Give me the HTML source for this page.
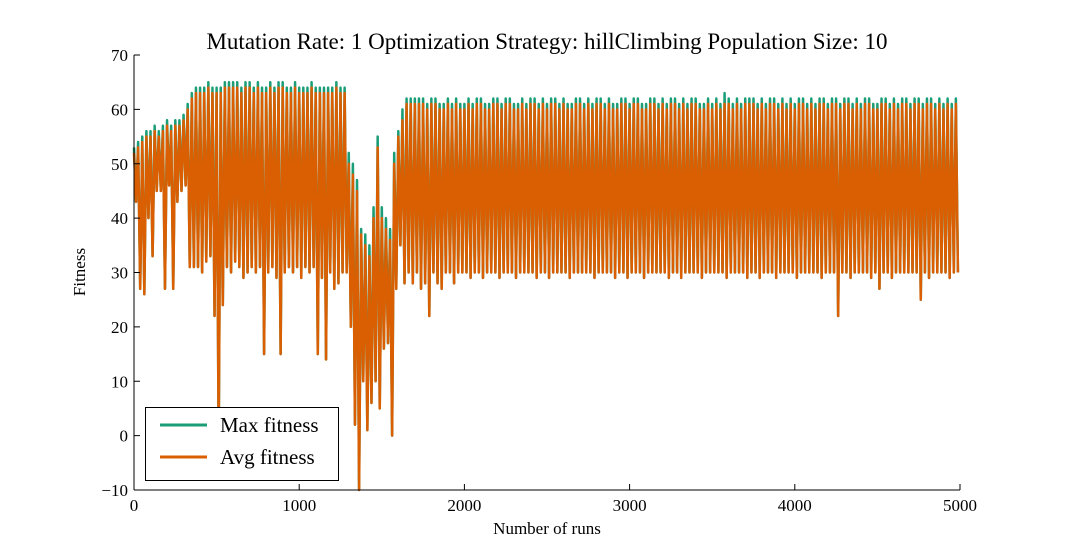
<!DOCTYPE html>
<html><head><meta charset="utf-8"><style>
body{margin:0;background:#fff;}
svg text{font-family:"Liberation Serif",serif;fill:#000;}
</style></head><body>
<svg id="chart" width="1066" height="546" viewBox="0 0 1066 546" xmlns="http://www.w3.org/2000/svg">
<rect width="1066" height="546" fill="#fff"/>
<text x="547" y="49" font-size="23" text-anchor="middle">Mutation Rate: 1 Optimization Strategy: hillClimbing Population Size: 10</text>
<g id="plot"></g>
<g id="axes"></g>
<text x="547" y="534" font-size="17" text-anchor="middle">Number of runs</text>
<text transform="translate(85,272) rotate(-90)" font-size="17" text-anchor="middle">Fitness</text>
<g>
<rect x="145.5" y="407.5" width="193" height="73" fill="#fff" stroke="#000" stroke-width="1"/>
<line x1="160" y1="425" x2="207" y2="425" stroke="#1b9e77" stroke-width="3"/>
<text x="220" y="432" font-size="21">Max fitness</text>
<line x1="160" y1="457" x2="207" y2="457" stroke="#d95f02" stroke-width="3"/>
<text x="220" y="464" font-size="21">Avg fitness</text>
</g>
</svg>
<script>
const binSize = 25;
const xTicks = [0,1000,2000,3000,4000,5000];
const yTicks = [-10,0,10,20,30,40,50,60,70];
const avgHigh = [52,53,54,55,55,56,55,56,57,56,
57,57,58,60,62,63,63,63,64,63,
63,63,64,64,64,64,63,64,64,63,
64,63,63,64,63,64,64,63,63,64,
63,63,63,64,63,63,63,63,63,64,
63,63,50,48,45,37,35,33,40,53,
40,38,36,50,55,58,61,61,61,61,
61,60,61,61,60,60,61,60,61,60,
60,61,60,61,61,60,60,61,61,60,
61,61,60,60,61,60,61,61,60,61,
60,61,61,60,61,60,60,61,61,60,
61,60,61,61,60,61,60,60,61,61,
60,61,61,60,60,61,61,60,61,60,
61,61,60,61,60,61,61,60,60,61,
60,61,60,61,61,60,61,60,61,61,
61,60,61,60,61,61,60,61,60,61,
60,61,61,60,61,60,61,61,60,61,
61,60,61,61,60,61,60,61,61,60,
60,61,61,60,61,60,61,61,60,61,
61,60,61,61,60,61,60,61,60,61];
const avgLow = [43,27,26,40,33,45,45,27,46,27,
43,45,46,31,31,31,30,32,33,22,
-2,24,31,30,32,31,29,30,31,30,
31,15,30,31,29,15,30,31,30,31,
29,31,30,31,15,29,14,30,27,28,
30,30,20,2,-10,10,1,6,10,5,
16,17,0,27,35,28,30,28,30,27,
28,22,30,28,27,30,30,28,30,30,
30,29,30,30,29,30,30,30,29,30,
30,30,29,30,30,30,30,29,30,30,
29,30,30,30,30,29,30,30,30,30,
30,29,30,30,30,30,29,30,30,29,
30,30,30,29,30,30,30,30,30,29,
30,30,29,30,30,30,30,29,30,30,
30,30,30,29,30,30,30,30,29,30,
30,29,30,30,30,29,30,30,30,30,
29,30,30,30,30,30,29,30,30,30,
22,30,30,29,30,30,30,30,29,30,
27,30,30,29,30,30,30,30,30,30,
25,30,29,30,30,30,30,29,30,30];
const maxHigh = [53,54,55,56,56,57,56,57,58,57,
58,58,59,61,63,64,64,64,65,64,
64,64,65,65,65,65,64,65,65,64,
65,64,64,65,64,65,65,64,64,65,
64,64,64,65,64,64,64,64,64,65,
64,64,52,50,47,38,37,35,42,55,
42,40,38,52,56,60,62,62,62,62,
62,61,62,62,61,61,62,61,62,61,
61,62,61,62,62,61,61,62,62,61,
62,62,61,61,62,61,62,62,61,62,
61,62,62,61,62,61,61,62,62,61,
62,61,62,62,61,62,61,61,62,62,
61,62,62,61,61,62,62,61,62,61,
62,62,61,62,61,62,62,61,61,62,
61,62,61,63,62,61,62,61,62,62,
62,61,62,61,62,62,61,62,61,62,
61,62,62,61,62,61,62,62,61,62,
62,61,62,62,61,62,61,62,62,61,
61,62,62,61,62,61,62,62,61,62,
62,61,62,62,61,62,61,62,61,62];
const maxLow = avgLow.slice();
const X0=134,X1=960,Y0=490,Y1=55;
const xs=v=>X0+v/5000*(X1-X0);
const ys=v=>Y0-(v+10)/80*(Y0-Y1);
const NS="http://www.w3.org/2000/svg";
const plot=document.getElementById('plot'), axes=document.getElementById('axes');
function series(hi,lo,color,name){
  const pts=[];
  hi.forEach((v,i)=>{pts.push(xs(i*binSize)+','+ys(v));pts.push(xs(i*binSize+binSize/2)+','+ys(lo[i]));});
  const p=document.createElementNS(NS,'polyline');
  p.setAttribute('points',pts.join(' '));
  p.setAttribute('fill','none');p.setAttribute('stroke',color);p.setAttribute('stroke-width','2.5');p.setAttribute('stroke-linejoin','round');
  
  
  plot.appendChild(p);
}
series(maxHigh,maxLow,'#1b9e77','max-fitness-line');
series(avgHigh,avgLow,'#d95f02','avg-fitness-line');
function line(x1,y1,x2,y2){const l=document.createElementNS(NS,'line');l.setAttribute('x1',x1);l.setAttribute('y1',y1);l.setAttribute('x2',x2);l.setAttribute('y2',y2);l.setAttribute('stroke','#000');l.setAttribute('stroke-width','1');axes.appendChild(l);return l;}
const xa=line(X0,Y0,X1,Y0);


const ya=line(X0,Y0,X0,Y1);


xTicks.forEach(t=>{const x=xs(t);line(x,Y0,x,Y0-6);
  const tx=document.createElementNS(NS,'text');tx.setAttribute('x',x);tx.setAttribute('y',Y0+21);tx.setAttribute('font-size','17');tx.setAttribute('text-anchor','middle');tx.textContent=t;
  
  
  axes.appendChild(tx);});
yTicks.forEach(t=>{const y=ys(t);line(X0,y,X0+6,y);
  const tx=document.createElementNS(NS,'text');tx.setAttribute('x',X0-6);tx.setAttribute('y',y+6);tx.setAttribute('font-size','17');tx.setAttribute('text-anchor','end');tx.textContent=t<0?'\u2212'+(-t):t;
  
  
  axes.appendChild(tx);});
</script>
</body></html>
